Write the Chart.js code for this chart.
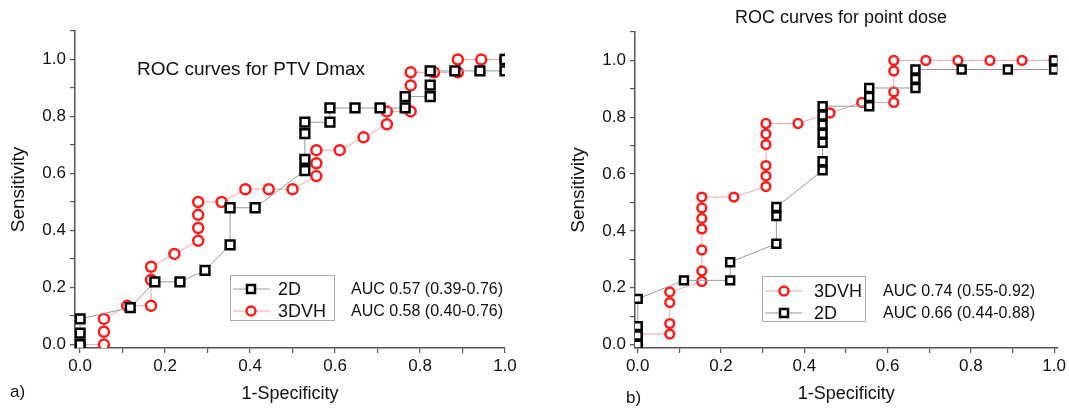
<!DOCTYPE html>
<html>
<head>
<meta charset="utf-8">
<script src="https://cdn.jsdelivr.net/npm/chart.js@4/dist/chart.umd.min.js"></script>
<style>
  body { margin: 0; background: #fff; width: 1069px; height: 409px; overflow: hidden; position: relative; }
  .box { position: absolute; top: 0; height: 409px; }
  #boxA { left: 0; width: 540px; }
  #boxB { left: 540px; width: 529px; }
</style>
</head>
<body>
<div class="box" id="boxA"><canvas id="chartA"></canvas></div>
<div class="box" id="boxB"><canvas id="chartB"></canvas></div>
<script>
// a) PTV Dmax
var fprA2D = [0, 0, 0, 0.118, 0.176, 0.235, 0.294, 0.353, 0.353, 0.412, 0.529, 0.529, 0.529, 0.529, 0.588, 0.588, 0.647, 0.706, 0.765, 0.765, 0.824, 0.824, 0.824, 0.882, 0.941, 1.0, 1.0];
var tprA2D = [0, 0.04, 0.09, 0.13, 0.22, 0.22, 0.26, 0.35, 0.48, 0.48, 0.61, 0.65, 0.74, 0.78, 0.78, 0.83, 0.83, 0.83, 0.83, 0.87, 0.87, 0.91, 0.96, 0.96, 0.96, 0.96, 1.0];
var fprA3D = [0, 0.056, 0.056, 0.056, 0.111, 0.167, 0.167, 0.167, 0.222, 0.278, 0.278, 0.278, 0.278, 0.333, 0.389, 0.444, 0.5, 0.556, 0.556, 0.556, 0.611, 0.667, 0.722, 0.722, 0.778, 0.778, 0.778, 0.833, 0.889, 0.889, 0.944, 1.0];
var tprA3D = [0, 0, 0.045, 0.09, 0.136, 0.136, 0.227, 0.273, 0.318, 0.364, 0.409, 0.455, 0.5, 0.5, 0.545, 0.545, 0.545, 0.591, 0.636, 0.682, 0.682, 0.727, 0.773, 0.818, 0.818, 0.909, 0.955, 0.955, 0.955, 1.0, 1.0, 1.0];

// b) point dose
var fprB3D = [0, 0, 0.077, 0.077, 0.077, 0.077, 0.154, 0.154, 0.154, 0.154, 0.154, 0.154, 0.154, 0.231, 0.308, 0.308, 0.308, 0.308, 0.308, 0.308, 0.385, 0.462, 0.538, 0.615, 0.615, 0.615, 0.615, 0.692, 0.769, 0.846, 0.923, 1.0];
var tprB3D = [0, 0.037, 0.037, 0.074, 0.148, 0.185, 0.222, 0.259, 0.333, 0.407, 0.444, 0.481, 0.519, 0.519, 0.556, 0.593, 0.630, 0.704, 0.741, 0.778, 0.778, 0.815, 0.852, 0.852, 0.889, 0.963, 1.0, 1.0, 1.0, 1.0, 1.0, 1.0];
var fprB2D = [0, 0, 0, 0, 0.111, 0.222, 0.222, 0.333, 0.333, 0.333, 0.444, 0.444, 0.444, 0.444, 0.444, 0.444, 0.444, 0.556, 0.556, 0.556, 0.667, 0.667, 0.667, 0.778, 0.889, 1.0, 1.0];
var tprB2D = [0, 0.032, 0.065, 0.161, 0.226, 0.226, 0.29, 0.355, 0.452, 0.484, 0.613, 0.645, 0.71, 0.742, 0.774, 0.806, 0.839, 0.839, 0.871, 0.903, 0.903, 0.935, 0.968, 0.968, 0.968, 0.968, 1.0];

var tickValues = [0, 0.1, 0.2, 0.3, 0.4, 0.5, 0.6, 0.7, 0.8, 0.9, 1.0];
var aucA = ['AUC 0.57 (0.39-0.76)', 'AUC 0.58 (0.40-0.76)'];
var aucB = ['AUC 0.74 (0.55-0.92)', 'AUC 0.66 (0.44-0.88)'];

var FONT = '"Liberation Sans", Arial, sans-serif';
var RED = '#ff1a1a', PINK = '#f6a5a5', GREY = '#9a9a9a';

function pts(xs, ys) {
    return xs.map(function (x, i) { return { x: x, y: ys[i] }; });
}

function ds2D(xs, ys, r) {
    return {
        label: '2D', data: pts(xs, ys), showLine: true, order: 0,
        borderColor: GREY, borderWidth: 1,
        pointStyle: 'rect', pointRadius: r, pointBorderColor: '#000',
        pointBackgroundColor: '#fff', pointBorderWidth: 2.5
    };
}
function ds3D(xs, ys, r) {
    return {
        label: '3DVH', data: pts(xs, ys), showLine: true, order: 1,
        borderColor: PINK, borderWidth: 1,
        pointStyle: 'circle', pointRadius: r, pointBorderColor: RED,
        pointBackgroundColor: '#fff', pointBorderWidth: 2.5
    };
}

// text, legend box and labels drawn on top of the chart
var notesPlugin = {
    id: 'notes',
    afterDraw: function (chart, args, o) {
        var ctx = chart.ctx;
        ctx.save();
        ctx.fillStyle = '#111';
        ctx.textBaseline = 'middle';
        ctx.font = o.titleSize + 'px ' + FONT;
        ctx.textAlign = o.titleAlign;
        ctx.fillText(o.title, o.titleX, o.titleY);
        ctx.textAlign = 'left';
        ctx.font = '17px ' + FONT;
        ctx.fillText(o.tag, o.tagX, o.tagY);

        var L = o.legend;
        ctx.strokeStyle = '#aaa';
        ctx.lineWidth = 1;
        ctx.strokeRect(L.x + 0.5, L.y + 0.5, L.w, L.h);
        L.rows.forEach(function (row, i) {
            var y = L.rowY[i];
            var ds = chart.data.datasets.find(function (d) { return d.label === row; });
            ctx.strokeStyle = ds.borderColor;
            ctx.lineWidth = 1;
            ctx.beginPath();
            ctx.moveTo(L.x + 3, y);
            ctx.lineTo(L.x + 40, y);
            ctx.stroke();
            ctx.strokeStyle = ds.pointBorderColor;
            ctx.fillStyle = '#fff';
            ctx.lineWidth = 2.5;
            ctx.beginPath();
            if (ds.pointStyle === 'rect') {
                ctx.rect(L.mx - 4, y - 4, 8, 8);
            } else {
                ctx.arc(L.mx, y, 4.5, 0, Math.PI * 2);
            }
            ctx.fill();
            ctx.stroke();
            ctx.fillStyle = '#111';
            ctx.font = '18px ' + FONT;
            ctx.fillText(row, L.tx, y + 1);
            ctx.font = '16px ' + FONT;
            ctx.fillText(L.auc[i], L.ax, y + 1);
        });
        ctx.restore();
    }
};

function makeChart(id, datasets, xr, yWidth, pad, tTitlePad, yTitlePad, notes) {
    var ctx = document.getElementById(id).getContext('2d');
    return new Chart(ctx, {
        type: 'scatter',
        data: { datasets: datasets },
        options: {
            responsive: true,
            maintainAspectRatio: false,
            animation: false,
            layout: { padding: pad },
            plugins: { legend: { display: false }, tooltip: { enabled: false }, notes: notes },
            scales: {
                x: {
                    type: 'linear', min: xr[0], max: xr[1],
                    afterBuildTicks: function (s) { s.ticks = tickValues.map(function (v) { return { value: v }; }); },
                    afterFit: function (s) { s.height = 61; },
                    ticks: {
                        color: '#111', font: { family: FONT, size: 17 }, padding: 3, maxRotation: 0, autoSkip: false,
                        callback: function (v) { var k = Math.round(v * 10); return k % 2 === 0 ? (k / 10).toFixed(1) : ''; }
                    },
                    grid: { drawOnChartArea: false, drawTicks: true, tickLength: 5, color: '#555', lineWidth: 1.2 },
                    border: { color: '#555', width: 1.5 },
                    title: { display: true, text: '1-Specificity', color: '#111', font: { family: FONT, size: 18 }, padding: { top: tTitlePad } }
                },
                y: {
                    type: 'linear', min: -0.012, max: 1.1,
                    afterBuildTicks: function (s) { s.ticks = tickValues.concat([1.1]).map(function (v) { return { value: v }; }); },
                    afterFit: function (s) { s.width = yWidth; },
                    ticks: {
                        color: '#111', font: { family: FONT, size: 17 }, padding: 4, autoSkip: false,
                        callback: function (v) { var k = Math.round(v * 10); return (k % 2 === 0 && k <= 10) ? (k / 10).toFixed(1) : ''; }
                    },
                    grid: { drawOnChartArea: false, drawTicks: true, tickLength: 5, color: '#555', lineWidth: 1.2 },
                    border: { color: '#555', width: 1.5 },
                    title: { display: true, text: 'Sensitivity', color: '#111', font: { family: FONT, size: 19 }, padding: { top: yTitlePad } }
                }
            }
        },
        plugins: [notesPlugin]
    });
}

makeChart('chartA',
    [ds2D(fprA2D, tprA2D, 6.2), ds3D(fprA3D, tprA3D, 5.0)],
    [-0.012, 1.0], 75, { left: 0, top: 31, right: 35, bottom: 0 }, 2, 7,
    {
        title: 'ROC curves for PTV Dmax', titleSize: 19, titleAlign: 'left', titleX: 137, titleY: 70,
        tag: 'a)', tagX: 10, tagY: 392,
        legend: { x: 230, y: 275, w: 104, h: 45, rows: ['2D', '3DVH'], rowY: [289, 311], mx: 251, tx: 278, ax: 351, auc: aucA }
    });

makeChart('chartB',
    [ds2D(fprB2D, tprB2D, 5.6), ds3D(fprB3D, tprB3D, 4.4)],
    [-0.0065, 1.008], 95, { left: 0, top: 32, right: 9, bottom: 0 }, 0, 27,
    {
        title: 'ROC curves for point dose', titleSize: 18, titleAlign: 'center', titleX: 301, titleY: 18,
        tag: 'b)', tagX: 86, tagY: 398,
        legend: { x: 222, y: 276, w: 103, h: 45, rows: ['3DVH', '2D'], rowY: [291, 313], mx: 244, tx: 274, ax: 343, auc: aucB }
    });
</script>
</body>
</html>
